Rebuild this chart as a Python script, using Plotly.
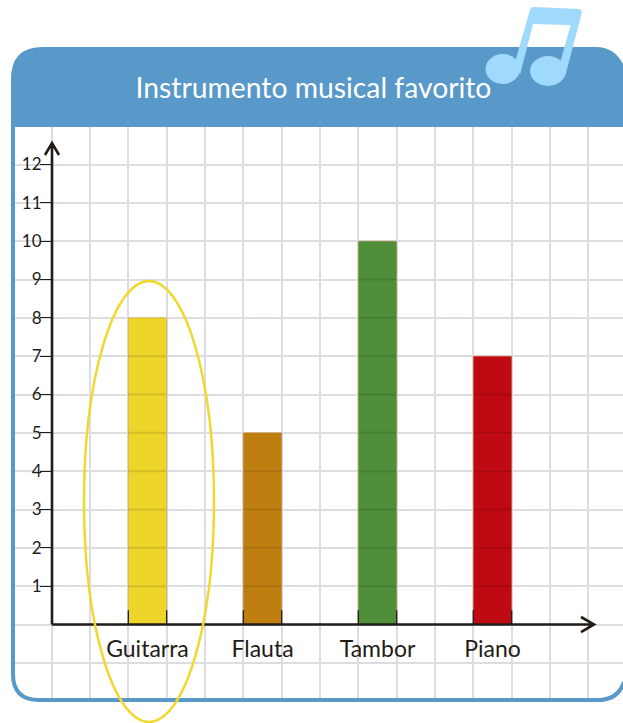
import plotly.graph_objects as go

W, H = 623, 723

titulo = "Instrumento musical favorito"
instrumentos = ["Guitarra", "Flauta", "Tambor", "Piano"]
votos = [8, 5, 10, 7]
colores = ["#eed52a", "#bf7f10", "#4f8f3a", "#bf0a14"]
ticks_y = list(range(1, 13))

# pixel positions of the axes in the picture
X0, DX = 147.5, 115.0      # centre of first bar, distance between bars
Y0, DY = 624.5, 38.33      # y of value 0, pixels per unit
LEFT, RIGHT, TOP, BOTTOM = 15, 623, 127, 700
AXIS_X = 52
INK = "#221c17"
BLUE = "#5899c9"
GRID = "#dcdce1"
NOTE = "#9fd9fb"


def px(x):
    return x / W


def py(y):
    return 1 - y / H


def path(points):
    # points in pixels -> svg path in paper coords
    out = []
    for p in points:
        if isinstance(p, str):
            out.append(p)
        else:
            out.append(f"{px(p[0]):.5f},{py(p[1]):.5f}")
    return " ".join(out)


fig = go.Figure()

fig.add_trace(go.Bar(x=list(range(len(votos))), y=votos, width=1 / 3, marker_color=colores,
                     marker_line=dict(color="rgba(190,120,20,0.35)", width=1), hoverinfo="skip"))

# grid seen through the bars, and the small ticks at their feet
xs, ys, tx, ty = [], [], [], []
for i, v in enumerate(votos):
    for n in range(1, v):
        xs += [i - 1 / 6, i + 1 / 6, None]
        ys += [n, n, None]
    for e in (i - 1 / 6, i + 1 / 6):
        tx += [e, e, None]
        ty += [0, 0.37, None]
fig.add_trace(go.Scatter(x=xs, y=ys, mode="lines", line=dict(color="rgba(0,0,0,0.11)", width=2), hoverinfo="skip"))
fig.add_trace(go.Scatter(x=tx, y=ty, mode="lines", line=dict(color=INK, width=1.3), hoverinfo="skip"))

shapes = [
    # header
    dict(type="path", xref="paper", yref="paper", fillcolor=BLUE, line_width=0,
         path=path(["M", (11, 127), "L", (11, 79), "Q", (11, 47), (43, 47), "L", (596, 47),
                    "Q", (615, 47), (624, 66), "L", (624, 127), "Z"])),
    # frame
    dict(type="path", xref="paper", yref="paper", line=dict(color=BLUE, width=4),
         path=path(["M", (13, 120), "L", (13, 674), "Q", (13, 700), (39, 700), "L", (598, 700),
                    "Q", (618, 700), (624, 682)])),
    # axes with arrows
    dict(type="path", xref="paper", yref="paper", line=dict(color=INK, width=2.6),
         path=path(["M", (AXIS_X, Y0), "L", (AXIS_X, 144), "M", (45, 155), "L", (AXIS_X, 143), "L", (59, 155),
                    "M", (AXIS_X, Y0), "L", (593, Y0), "M", (581, 617), "L", (594, Y0), "L", (581, 632)])),
    # highlight round the first bar
    dict(type="circle", xref="paper", yref="paper", line=dict(color="#f0d92e", width=2.5),
         x0=px(84), x1=px(214), y0=py(281), y1=py(722)),
    # music note
    dict(type="path", xref="paper", yref="paper", fillcolor=NOTE, line_width=0,
         path=path(["M", (530, 10), "Q", (531, 7), (534, 7), "L", (579, 9), "Q", (582, 10), (581.7, 13),
                    "L", (565.5, 75), "L", (560, 63), "L", (570.7, 25), "L", (533, 24),
                    "L", (520, 75), "L", (515.5, 60), "Z"])),
    dict(type="circle", xref="paper", yref="paper", fillcolor=NOTE, line_width=0,
         x0=px(485.5), x1=px(520), y0=py(54), y1=py(84)),
    dict(type="circle", xref="paper", yref="paper", fillcolor=NOTE, line_width=0,
         x0=px(530), x1=px(566), y0=py(56), y1=py(86)),
]

fig.update_layout(
    width=W, height=H, margin=dict(l=0, r=0, t=0, b=0), autosize=False,
    paper_bgcolor="white", plot_bgcolor="white", showlegend=False, shapes=shapes,
    font=dict(family="Lato", color=INK),
    title=dict(text=titulo, x=313.5 / W, xanchor="center", y=py(88), yanchor="middle",
               font=dict(family="Lato", size=28.3, color="white")),
)
fig.update_xaxes(
    domain=[px(LEFT), px(RIGHT)], range=[(LEFT - X0) / DX, (RIGHT - X0) / DX],
    anchor="free", position=py(Y0), tickmode="array",
    tickvals=list(range(len(instrumentos))), ticktext=instrumentos, ticks="", ticklabelstandoff=8,
    tickfont=dict(family="Lato", size=23, color=INK), showgrid=False, zeroline=False, showline=False,
    minor=dict(tickmode="array", tickvals=[-5 / 6 + k / 3 for k in range(15)], showgrid=True,
               gridcolor=GRID, gridwidth=2, ticks=""),
)
fig.update_yaxes(
    domain=[py(BOTTOM), py(TOP)], range=[(Y0 - BOTTOM) / DY, (Y0 - TOP) / DY],
    anchor="free", position=px(AXIS_X), tickmode="array", tickvals=ticks_y,
    ticks="outside", ticklen=12, tickwidth=1.3, tickcolor=INK, ticklabelstandoff=-5,
    tickfont=dict(family="Lato", size=17, color=INK), showgrid=True, gridcolor=GRID, gridwidth=2,
    zeroline=False, showline=False,
    minor=dict(tickmode="array", tickvals=[-1, 0], showgrid=True, gridcolor=GRID, gridwidth=2, ticks=""),
)

# the page's default body margin would push the chart 8px off
fig.write_html("out.html", config=dict(displayModeBar=False),
               post_script="document.body.style.margin='0';document.body.style.overflow='hidden';")
